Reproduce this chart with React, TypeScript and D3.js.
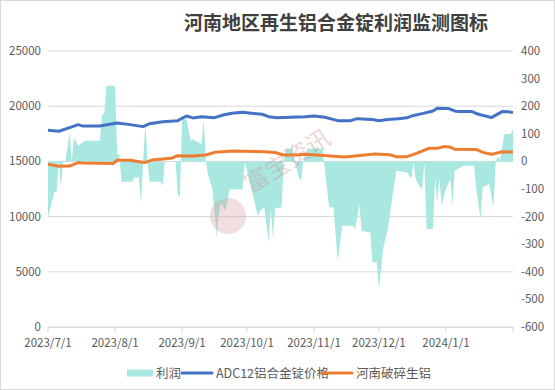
import React from 'react';
import * as d3 from 'd3';

const title = '河南地区再生铝合金锭利润监测图标';

// 利润 (right axis)
const profitDates = [
  '2023-07-01', '2023-07-04', '2023-07-05', '2023-07-06', '2023-07-07', '2023-07-08', '2023-07-09',
  '2023-07-11', '2023-07-12', '2023-07-13', '2023-07-15', '2023-07-18', '2023-07-25', '2023-07-26',
  '2023-07-27', '2023-07-28', '2023-08-01', '2023-08-02', '2023-08-03', '2023-08-04', '2023-08-09',
  '2023-08-10', '2023-08-12', '2023-08-13', '2023-08-14', '2023-08-15', '2023-08-16', '2023-08-17',
  '2023-08-22', '2023-08-23', '2023-08-24', '2023-08-29', '2023-08-30', '2023-08-31', '2023-09-01',
  '2023-09-03', '2023-09-05', '2023-09-06', '2023-09-10', '2023-09-11', '2023-09-12', '2023-09-13',
  '2023-09-15', '2023-09-17', '2023-09-18', '2023-09-19', '2023-09-21', '2023-09-23', '2023-09-29',
  '2023-09-30', '2023-10-06', '2023-10-07', '2023-10-09', '2023-10-11', '2023-10-12', '2023-10-13',
  '2023-10-14', '2023-10-17', '2023-10-18', '2023-10-19', '2023-10-22', '2023-10-23', '2023-10-25',
  '2023-10-26', '2023-10-27', '2023-10-29', '2023-11-05', '2023-11-06', '2023-11-07', '2023-11-08',
  '2023-11-10', '2023-11-12', '2023-11-14', '2023-11-19', '2023-11-20', '2023-11-22', '2023-11-23',
  '2023-11-27', '2023-11-28', '2023-11-30', '2023-12-01', '2023-12-03', '2023-12-05', '2023-12-09',
  '2023-12-14', '2023-12-16', '2023-12-17', '2023-12-18', '2023-12-20', '2023-12-21', '2023-12-22',
  '2023-12-23', '2023-12-26', '2023-12-27', '2023-12-28', '2023-12-29', '2023-12-30', '2024-01-01',
  '2024-01-03', '2024-01-04', '2024-01-05', '2024-01-09', '2024-01-14', '2024-01-15', '2024-01-17',
  '2024-01-18', '2024-01-21', '2024-01-23', '2024-01-24', '2024-01-25', '2024-01-26', '2024-01-28',
  '2024-01-31', '2024-02-01',
];
const profitValues = [
  -203, -110, -110, 0, -94, 0, 0,
  105, 0, 87, 57, 75, 75, 171,
  171, 274, 274, 26, 26, -74, -74,
  -58, -58, -155, 0, 141, 0, -74,
  -74, -88, 0, 0, -118, -130, 153,
  153, 75, 80, 63, 153, 0, -48,
  -100, -277, -190, -150, -180, -101, -101,
  0, -198, -180, -166, -294, -170, -279,
  -170, -166, 0, 47, 47, 0, -58,
  -70, 0, 47, 47, -30, -100, -166,
  -166, -363, -233, -233, -245, -155, -251,
  -258, -365, -365, -465, -315, -251, -34,
  -40, -64, 0, -64, -94, -100, -5,
  -245, -245, -60, -149, -64, -161, -100,
  -64, -161, -34, -16, -16, -100, -209,
  -94, -82, -166, 0, 18, 5, 99,
  99, 117,
];

// ADC12铝合金锭价格 (left axis)
const adcDates = [
  '2023-07-01', '2023-07-06', '2023-07-11', '2023-07-15', '2023-07-17', '2023-07-25', '2023-08-02',
  '2023-08-08', '2023-08-14', '2023-08-17', '2023-08-23', '2023-08-30', '2023-09-03', '2023-09-06',
  '2023-09-10', '2023-09-16', '2023-09-20', '2023-09-24', '2023-09-29', '2023-10-08', '2023-10-11',
  '2023-10-15', '2023-10-21', '2023-10-28', '2023-11-01', '2023-11-06', '2023-11-12', '2023-11-18',
  '2023-11-21', '2023-11-28', '2023-12-01', '2023-12-05', '2023-12-10', '2023-12-14', '2023-12-16',
  '2023-12-21', '2023-12-26', '2023-12-28', '2024-01-02', '2024-01-05', '2024-01-07', '2024-01-13',
  '2024-01-16', '2024-01-22', '2024-01-27', '2024-01-30', '2024-02-01',
];
const adcValues = [
  17820, 17730, 18060, 18330, 18200, 18200, 18480,
  18330, 18150, 18420, 18600, 18690, 19110, 18940,
  19050, 18960, 19200, 19360, 19450, 19270, 19050,
  18960, 19000, 19050, 19120, 18995, 18690, 18690,
  18870, 18800, 18690, 18800, 18870, 18950, 19110,
  19330, 19570, 19810, 19800, 19570, 19510, 19510,
  19270, 18970, 19510, 19500, 19420,
];

// 河南破碎生铝 (left axis)
const scrapDates = [
  '2023-07-01', '2023-07-06', '2023-07-11', '2023-07-15', '2023-07-17', '2023-07-31', '2023-08-02',
  '2023-08-08', '2023-08-13', '2023-08-15', '2023-08-18', '2023-08-27', '2023-08-30', '2023-09-06',
  '2023-09-12', '2023-09-16', '2023-09-25', '2023-10-09', '2023-10-14', '2023-10-18', '2023-10-25',
  '2023-10-28', '2023-11-07', '2023-11-15', '2023-11-21', '2023-11-29', '2023-12-06', '2023-12-09',
  '2023-12-14', '2023-12-18', '2023-12-21', '2023-12-24', '2023-12-28', '2023-12-31', '2024-01-03',
  '2024-01-05', '2024-01-15', '2024-01-18', '2024-01-22', '2024-01-27', '2024-02-01',
];
const scrapValues = [
  14740, 14560, 14580, 14890, 14850, 14800, 15100,
  15100, 14950, 14910, 15120, 15280, 15520, 15480,
  15580, 15820, 15940, 15880, 15800, 15580, 15600,
  15640, 15520, 15400, 15520, 15670, 15600, 15430,
  15430, 15700, 15940, 16190, 16190, 16340, 16300,
  16100, 16080, 15820, 15640, 15880, 15850,
];

const xTickDates = [
  '2023-07-01', '2023-08-01', '2023-09-01', '2023-10-01', '2023-11-01', '2023-12-01', '2024-01-01', '2024-02-01',
];
const xTickLabels = ['2023/7/1', '2023/8/1', '2023/9/1', '2023/10/1', '2023/11/1', '2023/12/1', '2024/1/1'];
const leftTicks = [0, 5000, 10000, 15000, 20000, 25000];
const rightTicks = [-600, -500, -400, -300, -200, -100, 0, 100, 200, 300, 400];

const legendItems = [
  { label: '利润', kind: 'area', color: '#a9e8e1' },
  { label: 'ADC12铝合金锭价格', kind: 'line', color: '#4472c4' },
  { label: '河南破碎生铝', kind: 'line', color: '#ed7d31' },
];

const W = 555;
const H = 390;
const font = "'Noto Sans CJK SC', 'Noto Sans', sans-serif";

export default function App() {
  const parse = d3.timeParse('%Y-%m-%d');
  const x = d3
    .scaleTime()
    .domain([parse('2023-07-01')!, parse('2024-02-01')!])
    .range([48, 513]);
  const yL = d3.scaleLinear().domain([0, 25000]).range([327, 51]);
  const yR = d3.scaleLinear().domain([-600, 400]).range([327, 51]);

  const profit = profitDates.map((d, i) => ({ d: parse(d)!, v: profitValues[i] }));
  const adc = adcDates.map((d, i) => ({ d: parse(d)!, v: adcValues[i] }));
  const scrap = scrapDates.map((d, i) => ({ d: parse(d)!, v: scrapValues[i] }));

  const areaGen = d3
    .area<{ d: Date; v: number }>()
    .x((p) => x(p.d))
    .y0(yR(0))
    .y1((p) => yR(p.v));
  const lineGen = d3
    .line<{ d: Date; v: number }>()
    .x((p) => x(p.d))
    .y((p) => yL(p.v));

  // legend layout
  const legendX = [127, 182, 322];
  const legendY = 373;

  return (
    <svg
      width={W}
      height={H}
      style={{ position: 'absolute', left: 0, top: 0, background: '#fff' }}
      fontFamily={font}
    >
      <rect x={0.5} y={0.5} width={W - 1} height={H - 1} fill="#fff" stroke="#d9d9d9" />
      <text x={336} y={30} textAnchor="middle" fontSize={19} fontWeight={700} fill="#404040">
        {title}
      </text>

      {/* gridlines */}
      {leftTicks.map((t) => (
        <line key={t} x1={48} x2={513} y1={yL(t)} y2={yL(t)} stroke="#d9d9d9" strokeWidth={1} />
      ))}

      {/* profit area */}
      <path d={areaGen(profit) || ''} fill="#a9e8e1" />

      {/* watermark */}
      <g opacity={0.35}>
        <circle cx={228} cy={216} r={18} fill="#d9a3a3" />
        <text
          x={292}
          y={168}
          textAnchor="middle"
          fontSize={24}
          fill="#d08d8d"
          transform="rotate(-32 292 168)"
        >
          富宝资讯
        </text>
      </g>

      <path d={lineGen(adc) || ''} fill="none" stroke="#4472c4" strokeWidth={3} strokeLinejoin="round" />
      <path d={lineGen(scrap) || ''} fill="none" stroke="#ed7d31" strokeWidth={3} strokeLinejoin="round" />

      {/* x axis */}
      <line x1={48} x2={513} y1={327.5} y2={327.5} stroke="#d9d9d9" />
      {xTickDates.map((t) => (
        <line key={t} x1={x(parse(t)!)} x2={x(parse(t)!)} y1={327} y2={332} stroke="#d9d9d9" />
      ))}
      {xTickLabels.map((l, i) => (
        <text key={l} x={x(parse(xTickDates[i])!)} y={347} textAnchor="middle" fontSize={11.5} fill="#595959">
          {l}
        </text>
      ))}

      {/* left axis */}
      {leftTicks.map((t) => (
        <text key={t} x={41} y={yL(t) + 4} textAnchor="end" fontSize={11.5} fill="#595959">
          {t}
        </text>
      ))}
      {/* right axis */}
      {rightTicks.map((t) => (
        <text key={t} x={521} y={yR(t) + 4} textAnchor="start" fontSize={11.5} fill="#595959">
          {t}
        </text>
      ))}

      {/* legend */}
      {legendItems.map((item, i) => (
        <g key={item.label}>
          {item.kind === 'area' ? (
            <rect x={legendX[i]} y={legendY - 3.5} width={26} height={7} fill={item.color} />
          ) : (
            <line
              x1={legendX[i]}
              x2={legendX[i] + 30}
              y1={legendY}
              y2={legendY}
              stroke={item.color}
              strokeWidth={3}
              strokeLinecap="round"
            />
          )}
          <text
            x={legendX[i] + (item.kind === 'area' ? 29 : 34)}
            y={legendY + 4.5}
            fontSize={12.5}
            fill="#595959"
          >
            {item.label}
          </text>
        </g>
      ))}
    </svg>
  );
}
